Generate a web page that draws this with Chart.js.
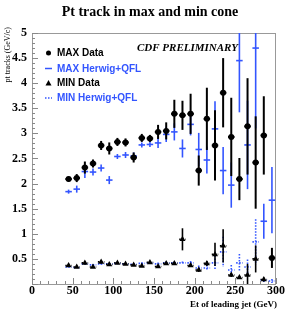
<!DOCTYPE html>
<html><head><meta charset="utf-8">
<script src="https://cdn.jsdelivr.net/npm/chart.js@4.4.0/dist/chart.umd.min.js"></script>
<style>html,body{margin:0;padding:0;background:#fff}#wrap{width:290px;height:315px;position:relative}</style>
</head><body><div id="wrap"><canvas id="c" width="290" height="315"></canvas></div>
<script>
// ---- data ----
const etBins = [45,55,65,75,85,95,105,115,125,135,145,155,165,175,185,195,205,215,225,235,245,255,265,275,285,295];
const maxData    = [2.09,2.11,2.32,2.40,2.76,2.70,2.83,2.82,2.52,2.91,2.90,3.03,3.05,3.39,3.36,3.39,2.26,3.29,2.76,3.81,2.93,2.09,3.14,2.42,2.96,0.52];
const maxDataErr = [0.05,0.08,0.12,0.08,0.09,0.12,0.08,0.08,0.10,0.08,0.07,0.14,0.17,0.28,0.29,0.40,0.30,0.62,0.70,0.69,0.78,0.42,0.96,0.92,0.78,0.20];
const maxMC      = [1.84,1.89,2.24,2.23,2.31,2.07,2.54,2.57,2.55,2.77,2.78,2.81,2.98,3.03,2.70,3.18,2.68,2.47,3.09,2.26,1.97,4.45,2.77,4.70,1.25,1.67];
const maxMCErr   = [0.04,0.07,0.13,0.07,0.07,0.08,0.05,0.06,0.07,0.05,0.05,0.10,0.15,0.17,0.18,0.22,0.33,0.27,0.55,0.47,0.45,1.03,0.88,1.60,0.35,0.66];
const minData    = [0.37,0.34,0.42,0.34,0.44,0.39,0.42,0.40,0.38,0.36,0.43,0.35,0.41,0.41,0.89,0.37,0.28,0.41,0.59,0.76,0.18,0.13,0.18,0.50,0.09,null];
const minDataErr = [0.02,0.02,0.03,0.02,0.03,0.02,0.02,0.02,0.02,0.02,0.03,0.02,0.03,0.03,0.22,0.03,0.04,0.05,0.23,0.33,0.04,0.03,0.22,0.27,0.04,0];
const minMC      = [0.34,0.33,0.40,0.38,0.40,0.40,0.41,0.40,0.39,0.41,0.42,0.40,0.42,0.42,0.42,0.42,0.32,0.32,0.42,0.64,0.28,0.42,0.34,0.84,0.08,0.06];
const minMCErr   = [0.02,0.02,0.03,0.02,0.02,0.02,0.02,0.02,0.02,0.02,0.02,0.03,0.03,0.03,0.03,0.04,0.05,0.06,0.15,0.30,0.10,0.18,0.15,0.45,0.04,0.04];
const xTickLabels = [0,50,100,150,200,250,300];
const yTickStep = 0.5;
const binHalf = 4;

const blue = 'rgb(51,85,255)';
function pts(vals, errs){
  const out=[];
  etBins.forEach((x,i)=>{ if(vals[i]!=null) out.push({x:x, y:vals[i], e:errs[i]}); });
  return out;
}

const errorBars = {
  id:'errorBars',
  beforeDatasetsDraw(chart){
    const {ctx, chartArea:a, scales:{x,y}} = chart;
    ctx.save();
    ctx.beginPath(); ctx.rect(a.left, a.top, a.right-a.left, a.bottom-a.top); ctx.clip();
    const order = [...chart.data.datasets].sort((p,q)=>p.barOrder-q.barOrder);
    order.forEach(ds=>{
      const st = ds.bar;
      ctx.strokeStyle = st.color; ctx.lineWidth = st.width; ctx.setLineDash(st.dash||[]);
      ds.data.forEach(p=>{
        const px=x.getPixelForValue(p.x), py=y.getPixelForValue(p.y);
        const y1=y.getPixelForValue(p.y+p.e), y2=y.getPixelForValue(p.y-p.e);
        const x1=x.getPixelForValue(p.x-binHalf), x2=x.getPixelForValue(p.x+binHalf);
        ctx.beginPath();
        if (p.e>0){ ctx.moveTo(px,y1); ctx.lineTo(px,y2); }
        ctx.stroke();
        ctx.setLineDash(st.hdash||st.dash||[]);
        ctx.beginPath(); ctx.moveTo(x1,py); ctx.lineTo(x2,py); ctx.stroke();
        ctx.setLineDash(st.dash||[]);
      });
    });
    ctx.restore();
  }
};

const decor = {
  id:'decor',
  beforeDatasetsDraw(chart){
    const {ctx, chartArea:a, scales:{x,y}} = chart;
    ctx.save();
    // frame
    ctx.strokeStyle='#999'; ctx.lineWidth=1;
    ctx.strokeRect(a.left+0.5, a.top+0.5, a.right-a.left-1, a.bottom-a.top);
    // inward ticks
    ctx.strokeStyle='#888';
    ctx.beginPath();
    for(let v=0; v<=5.0001; v+=0.1){
      const py=Math.round(y.getPixelForValue(v))+0.5;
      const major = Math.abs(v/0.5-Math.round(v/0.5))<1e-6;
      ctx.moveTo(a.left, py); ctx.lineTo(a.left+(major?6:3), py);
    }
    for(let v=0; v<=300; v+=10){
      const px=Math.round(x.getPixelForValue(v))+0.5;
      const major = v%50===0;
      ctx.moveTo(px, a.bottom); ctx.lineTo(px, a.bottom-(major?6:3));
    }
    ctx.stroke();
    ctx.restore();
  },
  afterDraw(chart){
    const {ctx, chartArea:a} = chart;
    ctx.save();
    ctx.fillStyle='#000';
    // title
    ctx.font='bold 14px "Liberation Serif"'; ctx.textAlign='center'; ctx.textBaseline='middle';
    ctx.fillText('Pt track in max and min cone', 150, 12);
    // x title
    ctx.font='bold 9px "Liberation Serif"'; ctx.textAlign='right';
    ctx.fillText('Et of leading jet (GeV)', 277, 305);
    // y title
    ctx.save(); ctx.translate(8, 27); ctx.rotate(-Math.PI/2);
    ctx.font='8px "Liberation Serif"'; ctx.textAlign='right'; ctx.textBaseline='middle';
    ctx.fillText('pt tracks (GeV/c)', 0, 0);
    ctx.restore();
    // CDF preliminary
    ctx.font='italic bold 11px "Liberation Serif"'; ctx.textAlign='left'; ctx.textBaseline='middle';
    ctx.fillText('CDF PRELIMINARY', 137, 48);
    // legend
    const items=[
      {t:'MAX Data', c:'#000', s:'dot', y:53},
      {t:'MAX Herwig+QFL', c:blue, s:'line', y:68.5},
      {t:'MIN Data', c:'#000', s:'tri', y:83},
      {t:'MIN Herwig+QFL', c:blue, s:'dots', y:98}
    ];
    ctx.font='bold 10px "Liberation Sans"';
    items.forEach(it=>{
      ctx.fillStyle=it.c; ctx.strokeStyle=it.c;
      if(it.s==='dot'){ ctx.beginPath(); ctx.arc(48.5,it.y,2.5,0,Math.PI*2); ctx.fillStyle='#000'; ctx.fill(); }
      else if(it.s==='tri'){ ctx.beginPath(); ctx.moveTo(48.5,it.y-3); ctx.lineTo(51.5,it.y+2.5); ctx.lineTo(45.5,it.y+2.5); ctx.closePath(); ctx.fillStyle='#000'; ctx.fill(); }
      else { ctx.lineWidth=1.5; ctx.setLineDash(it.s==='dots'?[1.5,1.5]:[]); ctx.beginPath(); ctx.moveTo(45,it.y); ctx.lineTo(52,it.y); ctx.stroke(); ctx.setLineDash([]); }
      ctx.fillStyle=it.c;
      ctx.fillText(it.t, 57, it.y+0.5);
    });
    ctx.restore();
  }
};

new Chart(document.getElementById('c'), {
  type:'scatter',
  data:{ datasets:[
    {label:'MAX Data', data:pts(maxData,maxDataErr), pointStyle:'circle', pointRadius:3, backgroundColor:'#000', borderColor:'#000', borderWidth:0, barOrder:3,
      bar:{color:'#000', width:2}},
    {label:'MAX Herwig+QFL', data:pts(maxMC,maxMCErr), pointRadius:0, borderColor:blue, backgroundColor:blue, barOrder:1,
      bar:{color:blue, width:1.6}},
    {label:'MIN Data', data:pts(minData,minDataErr), pointStyle:'triangle', pointRadius:3.5, backgroundColor:'#000', borderColor:'#000', borderWidth:0, barOrder:4,
      bar:{color:'#000', width:1.6, hdash:[1.5,1.5]}},
    {label:'MIN Herwig+QFL', data:pts(minMC,minMCErr), pointRadius:0, borderColor:blue, backgroundColor:blue, barOrder:2,
      bar:{color:blue, width:1.6, dash:[1.5,1.5]}}
  ]},
  options:{
    responsive:false, animation:false, devicePixelRatio:1,
    layout:{padding:{left:0,right:14,top:33,bottom:0}},
    plugins:{legend:{display:false}, title:{display:false}, tooltip:{enabled:false}},
    scales:{
      x:{type:'linear', min:0, max:300,
        afterBuildTicks(s){ s.ticks = xTickLabels.map(v=>({value:v})); },
        ticks:{font:{family:'Liberation Serif', weight:'bold', size:12}, color:'#000', padding:0, maxRotation:0, autoSkip:false},
        grid:{display:false, drawTicks:false}, border:{display:false},
        afterFit(s){ s.height=31; }},
      y:{type:'linear', min:0, max:5,
        ticks:{stepSize:yTickStep, font:{family:'Liberation Serif', weight:'bold', size:12}, color:'#000', padding:5,
          callback:v=> v===0 ? '' : String(v)},
        grid:{display:false, drawTicks:false}, border:{display:false},
        afterFit(s){ s.width=32; }}
    }
  },
  plugins:[decor, errorBars]
});
</script></body></html>
